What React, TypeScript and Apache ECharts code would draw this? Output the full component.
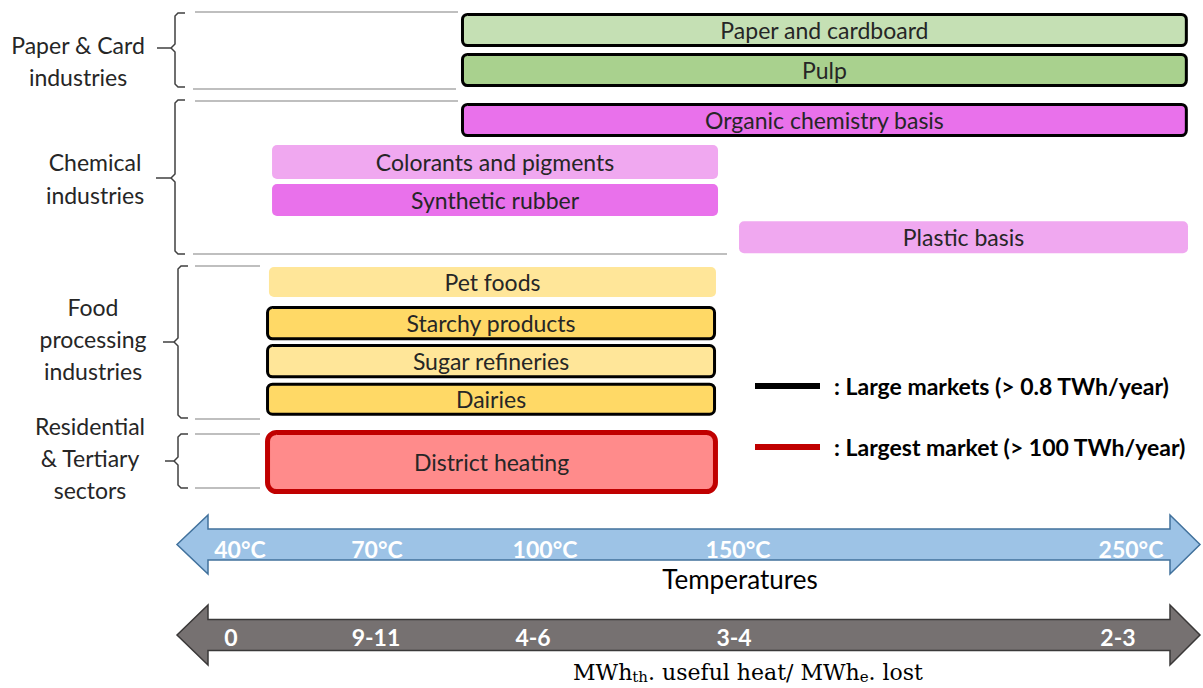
import React, { useEffect, useRef } from "react";
import * as echarts from "echarts";

// ---- data ----
const activities = [
  "Paper and cardboard",
  "Pulp",
  "Organic chemistry basis",
  "Colorants and pigments",
  "Synthetic rubber",
  "Plastic basis",
  "Pet foods",
  "Starchy products",
  "Sugar refineries",
  "Dairies",
  "District heating",
];
// positions along the temperature scale (diagram units 0-100)
const startPos = [27.95, 27.95, 27.95, 9.37, 9.37, 54.93, 9.07, 8.93, 8.93, 8.93, 8.93];
const endPos = [98.57, 98.57, 98.57, 52.88, 52.88, 98.73, 52.68, 52.54, 52.54, 52.54, 52.63];
const rowPos = [0.75, 1.75, 3.0, 4.05, 5.0, 5.93, 7.05, 8.08, 9.03, 9.98, 11.55];
const rowSpan = [0.78, 0.78, 0.78, 0.85, 0.8, 0.8, 0.75, 0.78, 0.78, 0.75, 1.48];
const market = ["large", "large", "large", "", "", "", "", "large", "large", "large", "largest"];
const fills = ["#C5E0B4", "#A9D18E", "#E971EB", "#F0A8F0", "#E971EB", "#F0A8F0", "#FFE699", "#FFD966", "#FFE699", "#FFD966", "#FF8B8B"];

const tempLabels = ["40°C", "70°C", "100°C", "150°C", "250°C"];
const tempPos = [6.24, 19.61, 36.0, 54.83, 93.17];
const ratioLabels = ["0", "9-11", "4-6", "3-4", "2-3"];
const ratioPos = [5.37, 19.51, 34.83, 54.44, 91.9];

const groupLabels = ["Paper & Card\nindustries", "Chemical\nindustries", "Food\nprocessing\nindustries", "Residential\n& Tertiary\nsectors"];
const legendLabels = [": Large markets (> 0.8 TWh/year)", ": Largest market (> 100 TWh/year)"];

const FONT = "Lato, 'Open Sans', sans-serif";
const SERIF = "'DejaVu Serif', 'Liberation Serif', serif";

function brace(x: number, top: number, bottom: number, mid: number, tickLeft: number) {
  const st = { stroke: "#404040", lineWidth: 1.5, fill: "none" };
  return [
    {
      type: "polyline",
      shape: { points: [[x + 10, top], [x + 3, top], [x, top + 3], [x, mid - 4], [x - 4, mid], [tickLeft, mid]] },
      style: st,
      silent: true,
    },
    {
      type: "polyline",
      shape: { points: [[x - 4, mid], [x, mid + 4], [x, bottom - 3], [x + 3, bottom], [x + 10, bottom]] },
      style: st,
      silent: true,
    },
  ];
}

function grayLine(x1: number, x2: number, y: number) {
  return { type: "line", shape: { x1, y1: y, x2, y2: y }, style: { stroke: "#BFBFBF", lineWidth: 2 }, silent: true };
}

function arrow(yc: number, half: number, headHalf: number, fill: string, stroke: string) {
  return {
    type: "polygon",
    shape: {
      points: [
        [177, yc], [208, yc - headHalf], [208, yc - half], [1170, yc - half], [1170, yc - headHalf],
        [1200, yc], [1170, yc + headHalf], [1170, yc + half], [208, yc + half], [208, yc + headHalf],
      ],
    },
    style: { fill, stroke, lineWidth: 1.5 },
    silent: true,
  };
}

export default function App() {
  const ref = useRef<HTMLDivElement>(null);
  useEffect(() => {
    if (!ref.current) return;
    const chart = echarts.init(ref.current, null, { renderer: "svg" });

    const barData = activities.map((n, i) => ({ name: n, value: [startPos[i], endPos[i], rowPos[i], rowSpan[i], i] }));

    const groupPos = [
      { x: 78, y: 61, lh: 32 },
      { x: 95, y: 178, lh: 33 },
      { x: 93, y: 339, lh: 32 },
      { x: 90, y: 458, lh: 32 },
    ];

    const graphics: any[] = [
      grayLine(195, 458, 12),
      grayLine(193, 456, 89),
      grayLine(195, 458, 101),
      grayLine(193, 727, 254),
      grayLine(195, 260, 266),
      grayLine(195, 260, 419),
      grayLine(195, 260, 434),
      grayLine(195, 260, 488),
      ...brace(175, 13, 87, 48, 157),
      ...brace(175, 100, 254, 178, 156),
      ...brace(178, 266, 418, 342, 163),
      ...brace(178, 434, 488, 461, 165),
      ...groupLabels.map((t, i) => ({
        type: "text",
        x: groupPos[i].x,
        y: groupPos[i].y,
        style: {
          text: t,
          fill: "#262626",
          font: `23px ${FONT}`,
          align: "center",
          verticalAlign: "middle",
          lineHeight: groupPos[i].lh,
        },
        silent: true,
      })),
      arrow(544.5, 15.5, 29.5, "#9DC3E6", "#41719C"),
      arrow(635, 15.5, 30, "#767171", "#3A3838"),
      {
        type: "text",
        x: 740,
        y: 579,
        style: { text: "Temperatures", fill: "#000", font: `26px ${FONT}`, align: "center", verticalAlign: "middle" },
        silent: true,
      },
      {
        type: "text",
        x: 748,
        y: 672,
        style: {
          text: "{a|MWh}{s|th}{a|. useful heat/ MWh}{s|e}{a|. lost}",
          align: "center",
          verticalAlign: "middle",
          rich: {
            a: { font: `22px ${SERIF}`, fill: "#000" },
            s: { font: `15px ${SERIF}`, fill: "#000", padding: [10, 0, 0, 0] },
          },
        },
        silent: true,
      },
      { type: "rect", shape: { x: 755, y: 383, width: 65, height: 6 }, style: { fill: "#000" }, silent: true },
      { type: "rect", shape: { x: 755, y: 444, width: 65, height: 6 }, style: { fill: "#C00000" }, silent: true },
      ...legendLabels.map((t, i) => ({
        type: "text",
        x: 834,
        y: i === 0 ? 386 : 447,
        style: { text: t, fill: "#000", font: `bold 23px ${FONT}`, align: "left", verticalAlign: "middle" },
        silent: true,
      })),
    ];

    const labelStyle = {
      show: true,
      position: "inside",
      formatter: "{b}",
      color: "#fff",
      fontFamily: FONT,
      fontWeight: "bold",
      fontSize: 23,
    };

    chart.setOption({
      animation: false,
      grid: { left: 176, right: 2, top: 0, bottom: 0 },
      xAxis: { type: "value", min: 0, max: 100, show: false },
      yAxis: { type: "value", min: 0, max: 17.2, inverse: true, show: false },
      graphic: { elements: graphics },
      series: [
        {
          type: "custom",
          z: 10,
          data: barData,
          encode: { x: [0, 1], y: 2 },
          renderItem: (params: any, api: any) => {
            const i = api.value(4);
            const p0 = api.coord([api.value(0), api.value(2)]);
            const p1 = api.coord([api.value(1), api.value(2)]);
            const h = api.size([0, api.value(3)])[1];
            const m = market[i];
            const stroke = m === "largest" ? "#C00000" : m === "large" ? "#000" : "none";
            const lw = m === "largest" ? 5 : m === "large" ? 3 : 0;
            return {
              type: "rect",
              shape: { x: p0[0], y: p0[1] - h / 2, width: p1[0] - p0[0], height: h, r: m === "largest" ? 9 : 5 },
              style: { fill: fills[i], stroke, lineWidth: lw },
              textContent: {
                style: { text: activities[i], fill: "#262626", font: `23px ${FONT}` },
              },
              textConfig: { position: "inside" },
            };
          },
        },
        {
          type: "scatter",
          z: 10,
          symbolSize: 1,
          itemStyle: { color: "transparent", opacity: 1 },
          data: tempLabels.map((t, i) => ({ name: t, value: [tempPos[i], 13.72] })),
          label: labelStyle,
        },
        {
          type: "scatter",
          z: 10,
          symbolSize: 1,
          itemStyle: { color: "transparent", opacity: 1 },
          data: ratioLabels.map((t, i) => ({ name: t, value: [ratioPos[i], 15.93] })),
          label: labelStyle,
        },
      ],
    });
    return () => chart.dispose();
  }, []);
  return <div ref={ref} style={{ width: 1203, height: 688, position: "absolute", left: 0, top: 0 }} />;
}
